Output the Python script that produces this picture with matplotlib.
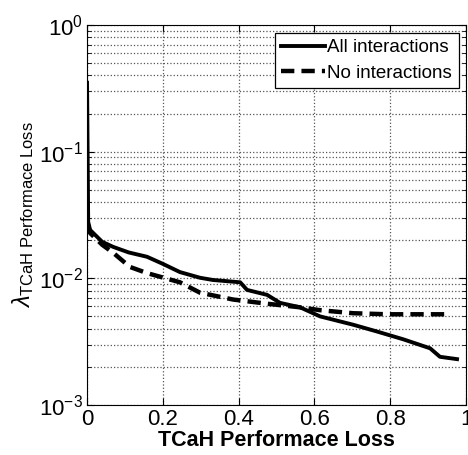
import matplotlib.pyplot as plt
from matplotlib.ticker import LogLocator, NullFormatter

plt.rcParams['font.family'] = ['Liberation Sans', 'DejaVu Sans']
plt.rcParams['mathtext.fontset'] = 'custom'
plt.rcParams['mathtext.rm'] = 'Liberation Sans'
plt.rcParams['mathtext.it'] = 'Liberation Sans:italic'

# solid curve: all interactions
all_x = [0.0, 0.003, 0.008, 0.04, 0.069, 0.11, 0.158, 0.2, 0.245, 0.298, 0.332,
         0.404, 0.422, 0.475, 0.509, 0.562, 0.615, 0.702, 0.765, 0.834, 0.905,
         0.931, 0.976]
all_y = [0.35, 0.0279, 0.0241, 0.0194, 0.0177, 0.0160, 0.0148, 0.0130, 0.0112,
         0.0101, 0.0097, 0.0093, 0.0081, 0.0074, 0.0064, 0.0059, 0.0050, 0.0043,
         0.0038, 0.0033, 0.0028, 0.0024, 0.0023]

# dashed curve: no interactions
no_x = [0.003, 0.008, 0.04, 0.069, 0.113, 0.158, 0.245, 0.298, 0.385, 0.475,
        0.562, 0.615, 0.702, 0.792, 0.958]
no_y = [0.0264, 0.0228, 0.0184, 0.0159, 0.0123, 0.0110, 0.0093, 0.0077, 0.0068,
        0.0063, 0.0059, 0.0056, 0.0053, 0.0052, 0.0052]

fig = plt.figure(figsize=(4.68, 4.55), dpi=100)
ax = fig.add_axes([0.186, 0.110, 0.810, 0.835])

ax.semilogy(all_x, all_y, color='black', lw=2.8, label='All interactions')
ax.semilogy(no_x, no_y, color='black', lw=3.2, dashes=(3, 1.6), label='No interactions')

ax.set_xlim(0, 1)
ax.set_ylim(1e-3, 1)
ax.set_xticks([0, 0.2, 0.4, 0.6, 0.8, 1])
ax.set_xticklabels(['0', '0.2', '0.4', '0.6', '0.8', '1'])
ax.yaxis.set_major_locator(LogLocator(base=10, numticks=10))
ax.yaxis.set_minor_locator(LogLocator(base=10, subs=range(2, 10), numticks=20))
ax.yaxis.set_minor_formatter(NullFormatter())

ax.grid(True, which='major', ls=':', color='#555555', lw=0.9)
ax.grid(True, which='minor', axis='y', ls=':', color='#555555', lw=0.9)
ax.tick_params(which='both', direction='in', top=True, right=True, labelsize=16)
ax.tick_params(which='major', length=5, pad=3)
ax.tick_params(which='minor', length=3)

ax.set_xlabel('TCaH Performace Loss', fontsize=15.5, fontweight='bold', labelpad=0)
ax.set_ylabel(r'$\lambda_{\mathrm{TCaH\ Performace\ Loss}}$', fontsize=17, labelpad=2)

leg = ax.legend(loc='upper right', fontsize=13.5, fancybox=False, framealpha=1,
                edgecolor='black', handlelength=2.3, handletextpad=0.15,
                borderpad=0.35, labelspacing=0.45, borderaxespad=0.4)
leg.get_frame().set_linewidth(0.9)

fig.savefig('out.png', dpi=100)
